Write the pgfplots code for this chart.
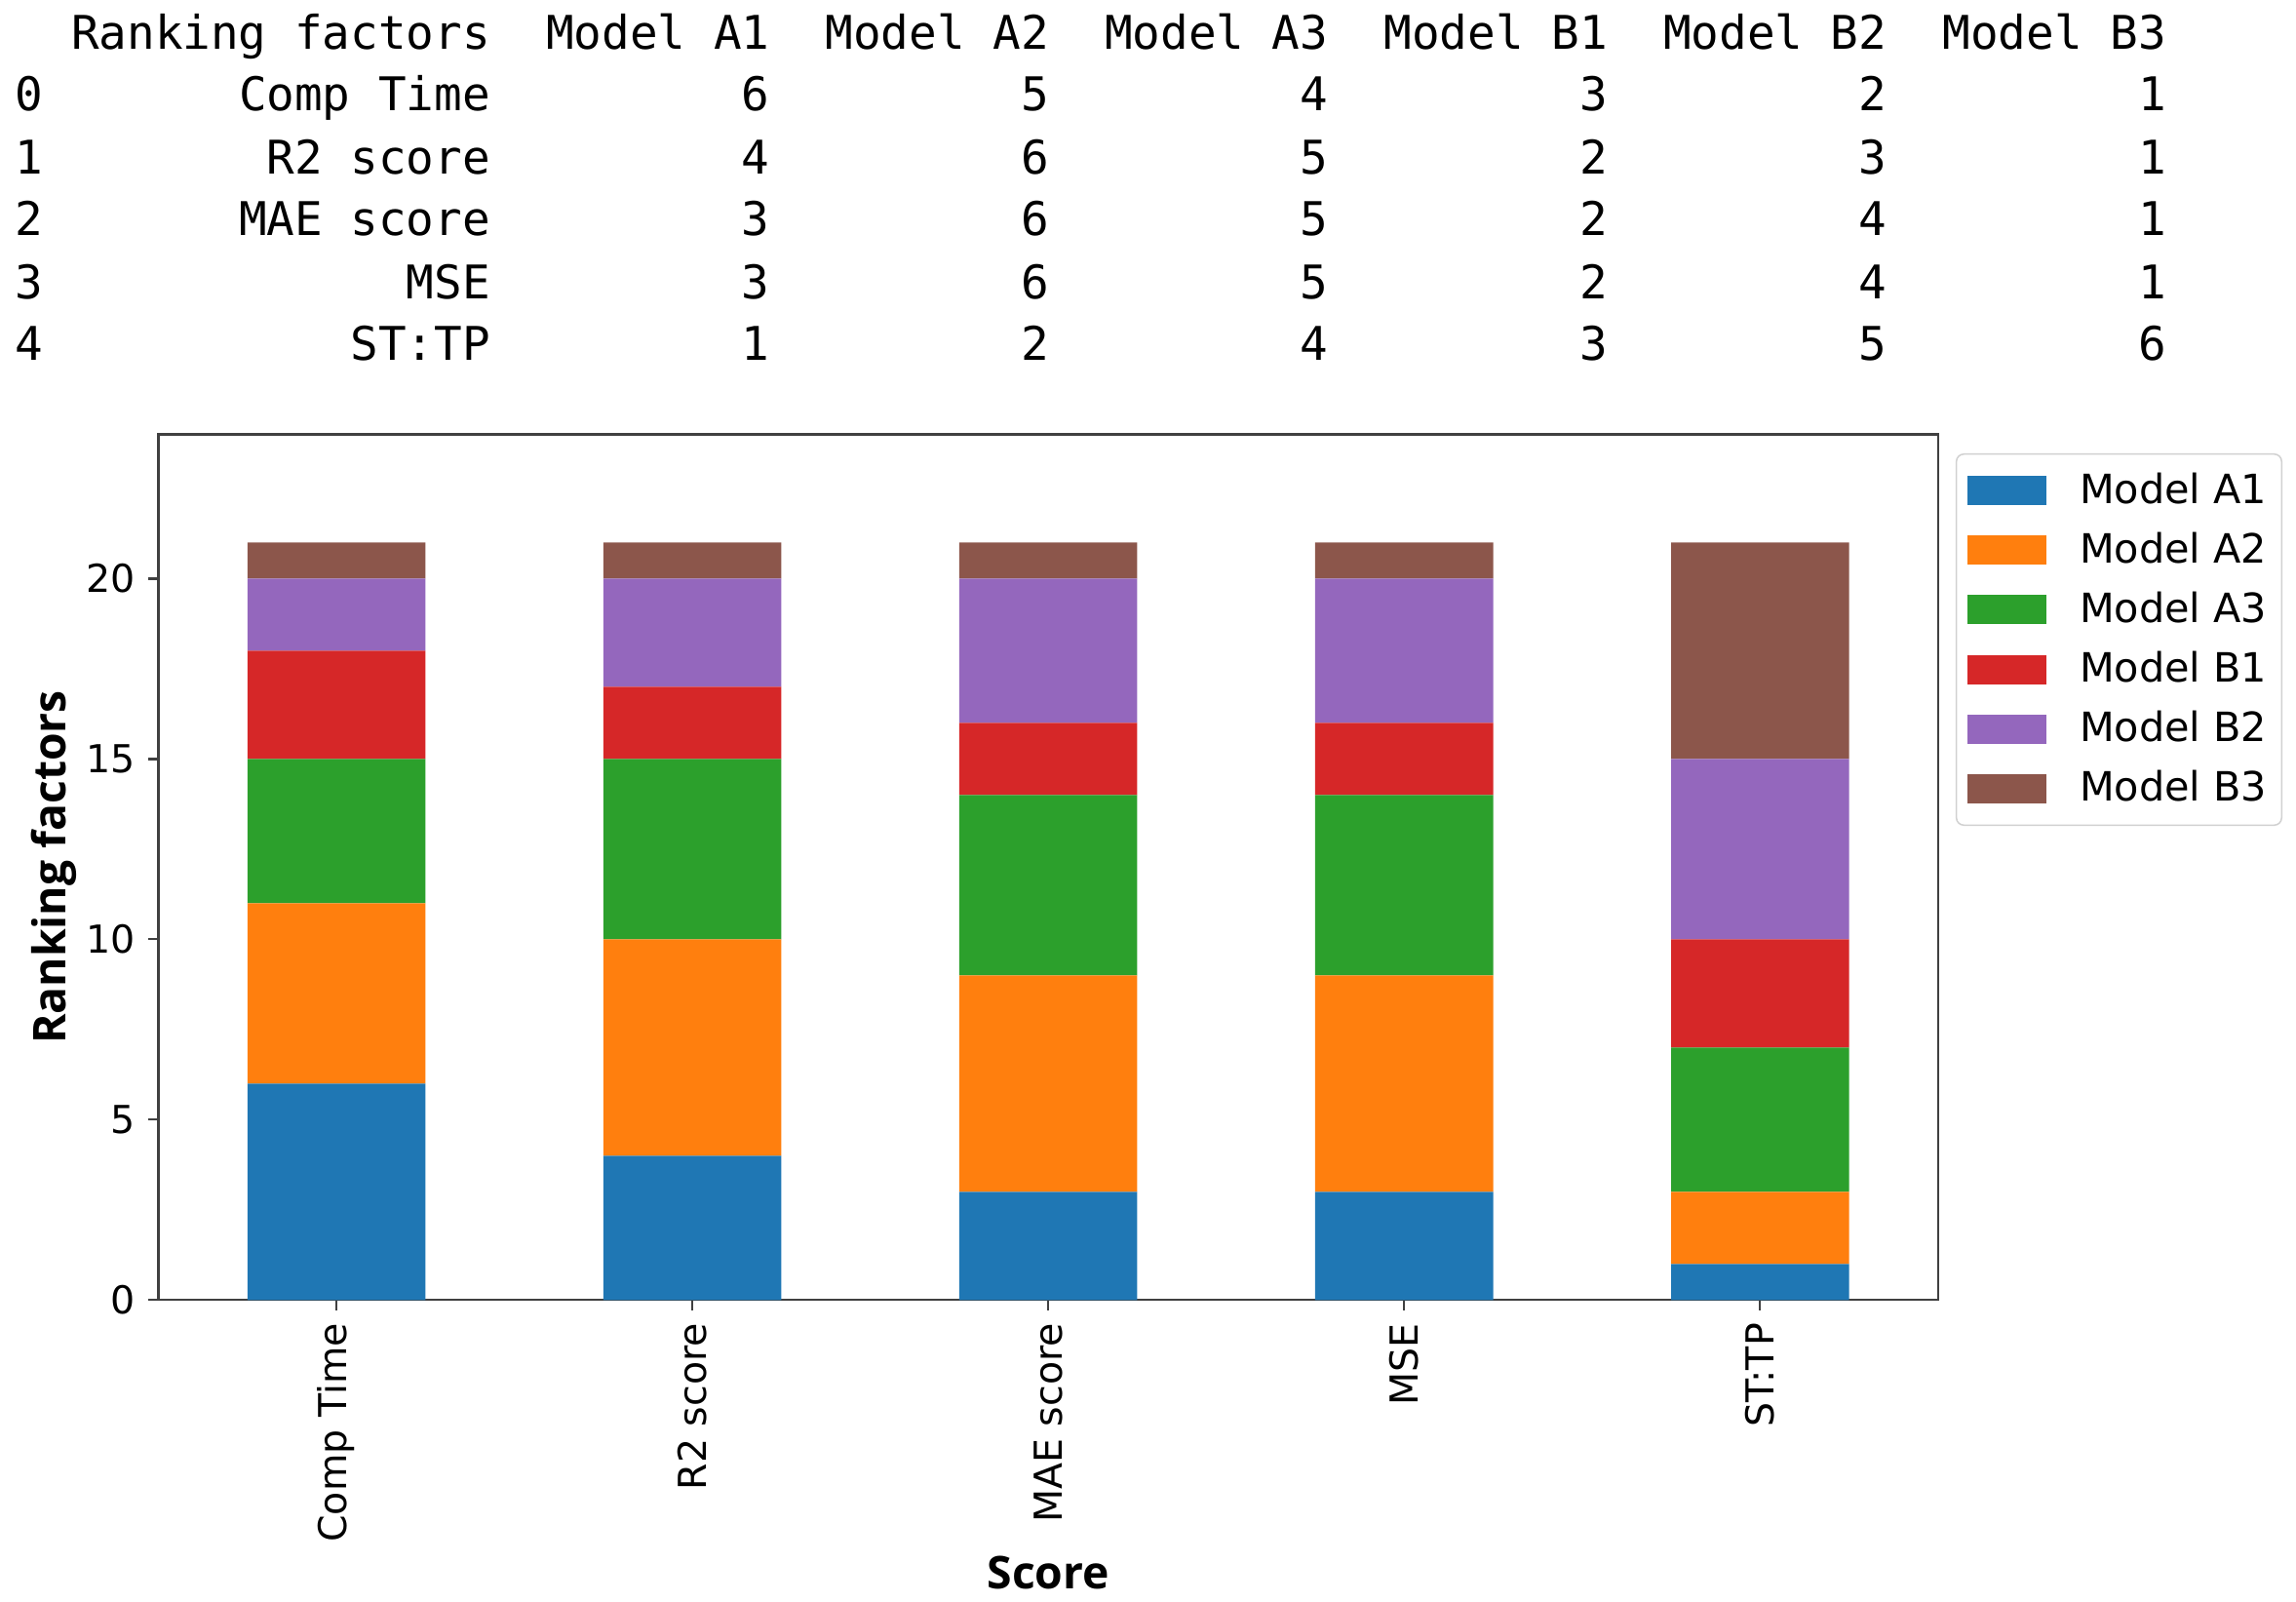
\documentclass[border=0pt]{standalone}
\usepackage{pgfplots}
\usepackage{pgfplotstable}
\pgfplotsset{compat=1.18}
\usepackage{fontspec}
\setmainfont{DejaVu Sans}
\newfontfamily\mono{DejaVu Sans Mono}
\newfontfamily\lab{Open Sans}

\definecolor{c0}{HTML}{1F77B4}
\definecolor{c1}{HTML}{FF7F0E}
\definecolor{c2}{HTML}{2CA02C}
\definecolor{c3}{HTML}{D62728}
\definecolor{c4}{HTML}{9467BD}
\definecolor{c5}{HTML}{8C564B}

\pgfplotstableread{
idx A1 A2 A3 B1 B2 B3
0   6  5  4  3  2  1
1   4  6  5  2  3  1
2   3  6  5  2  4  1
3   3  6  5  2  4  1
4   1  2  4  3  5  6
}\ranks

\newlength\cw
\newcommand\tabfont{\mono\fontsize{12.65}{15}\selectfont}
\newcommand\trow[8]{\tabfont\settowidth{\cw}{0}%
  \makebox[\cw][l]{#1}\makebox[16\cw][r]{#2}\makebox[10\cw][r]{#3}%
  \makebox[10\cw][r]{#4}\makebox[10\cw][r]{#5}\makebox[10\cw][r]{#6}%
  \makebox[10\cw][r]{#7}\makebox[10\cw][r]{#8}}

\begin{document}
\begin{tikzpicture}
\path (0pt,0pt) rectangle (626pt,-435.4pt);

% pandas table printed above the chart
\node[anchor=base west, inner sep=0pt] at (4pt,-13.4pt) {\trow{}{Ranking factors}{Model A1}{Model A2}{Model A3}{Model B1}{Model B2}{Model B3}};
\node[anchor=base west, inner sep=0pt] at (4pt,-30.2pt) {\trow{0}{Comp Time}{6}{5}{4}{3}{2}{1}};
\node[anchor=base west, inner sep=0pt] at (4pt,-47.4pt) {\trow{1}{R2 score}{4}{6}{5}{2}{3}{1}};
\node[anchor=base west, inner sep=0pt] at (4pt,-64.2pt) {\trow{2}{MAE score}{3}{6}{5}{2}{4}{1}};
\node[anchor=base west, inner sep=0pt] at (4pt,-81.4pt) {\trow{3}{MSE}{3}{6}{5}{2}{4}{1}};
\node[anchor=base west, inner sep=0pt] at (4pt,-98.2pt) {\trow{4}{ST:TP}{1}{2}{4}{3}{5}{6}};

\begin{axis}[
  at={(43.2pt,-354.4pt)}, anchor=south west,
  scale only axis, width=485.2pt, height=236pt,
  ybar stacked, bar width=0.5,
  xmin=-0.5, xmax=4.5, ymin=0, ymax=24,
  xtick={0,...,4},
  xticklabels={Comp Time,R2 score,MAE score,MSE,ST:TP},
  ytick={0,5,10,15,20},
  tick align=outside, tick pos=left,
  major tick length=2.8pt,
  axis line style={black!75, line width=0.6pt},
  every tick/.style={black!75, line width=0.6pt},
  /pgf/number format/assume math mode=true,
  tick label style={font=\fontsize{10.5}{12}\selectfont},
  xticklabel style={rotate=90, anchor=east},
  xlabel={Score}, ylabel={Ranking factors},
  label style={font=\lab\bfseries\fontsize{12.3}{14}\selectfont},
  xlabel style={at={(axis description cs:0.5,-0.315)}, anchor=center},
  ylabel style={at={(axis description cs:-0.0585,0.5)}, anchor=center, rotate=0},
  legend style={at={(1.0099,0.978)}, anchor=north west,
    draw=black!18, rounded corners=2pt, fill=white,
    font=\fontsize{11}{13}\selectfont,
    inner xsep=3pt, inner ysep=4pt, row sep=4.4pt,
    nodes={inner sep=1pt},
    /tikz/every odd column/.append style={column sep=8pt}},
  legend cell align=left,
  legend image code/.code={\fill[#1, sharp corners] (0pt,-4pt) rectangle (21.6pt,4pt);},
]
\addplot[fill=c0, draw=none] table[x=idx, y=A1] {\ranks};
\addplot[fill=c1, draw=none] table[x=idx, y=A2] {\ranks};
\addplot[fill=c2, draw=none] table[x=idx, y=A3] {\ranks};
\addplot[fill=c3, draw=none] table[x=idx, y=B1] {\ranks};
\addplot[fill=c4, draw=none] table[x=idx, y=B2] {\ranks};
\addplot[fill=c5, draw=none] table[x=idx, y=B3] {\ranks};
\legend{Model A1,Model A2,Model A3,Model B1,Model B2,Model B3}
\end{axis}
\end{tikzpicture}
\end{document}
